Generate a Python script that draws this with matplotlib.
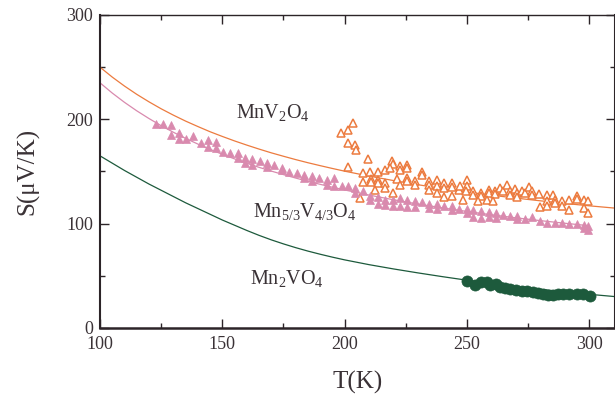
import matplotlib
matplotlib.use("Agg")
import matplotlib.pyplot as plt
from matplotlib.ticker import MultipleLocator

plt.rcParams['font.family'] = ['Liberation Serif', 'DejaVu Serif']
plt.rcParams['mathtext.fontset'] = 'custom'
plt.rcParams['mathtext.rm'] = 'Liberation Serif'
plt.rcParams['mathtext.default'] = 'regular'

# ---- fit curves ----
fit_T = [100, 105, 110, 115, 120, 125, 130, 135, 140, 145, 150, 155, 160, 165, 170, 175,
         180, 185, 190, 195, 200, 210, 220, 230, 240, 250, 260, 270, 280, 290, 300, 310]
fit_mnv2o4 = [250, 240.5, 231.9, 224, 216.8, 210.1, 204, 198.3, 193.1, 188.1, 183.6, 179.3,
              175.3, 171.5, 167.9, 164.6, 161.4, 158.4, 155.6, 152.9, 150.3, 145.6, 141.3,
              137.3, 133.7, 130.4, 127.3, 124.5, 121.9, 119.4, 117.1, 115]
fit_mid_T = fit_T[:-1]
fit_mid = [235, 225.2, 216.3, 208.2, 200.8, 193.9, 187.6, 181.7, 176.3, 171.2, 166.5, 162.1,
           157.9, 154.0, 150.4, 147.0, 143.7, 140.6, 137.7, 134.9, 132.3, 127.4, 122.9,
           118.8, 115.1, 111.7, 108.5, 105.6, 102.9, 100.4, 98]
fit_mn2vo4 = [165, 158, 151, 144.5, 138, 132, 126, 120, 114.5, 109, 103.5, 98.5,
              93.5, 88.8, 84.5, 80.6, 77, 73.7, 70.7, 67.9, 65.3, 60.7, 56.6,
              52.8, 49.2, 45.8, 42.7, 39.8, 37.1, 34.6, 32.3, 30.2]

# ---- Mn2VO4 data ----
mn2_T = [250.2, 253.3, 255.6, 258.1, 259.4, 261.8, 263.5, 265.6, 267.6, 270.1, 272.4,
         274.4, 276.9, 279.2, 281.2, 283.3, 285.3, 287.4, 289.4, 291.5, 294.9, 297.6, 300.3]
mn2_S = [45.5, 41.3, 43.9, 44.5, 41.3, 42, 39.7, 38.8, 37.5, 36.5, 35.9,
         35.3, 34.3, 34, 32.7, 32, 31.7, 32.4, 32.4, 32.4, 32.4, 32.4, 31]

# ---- Mn5/3V4/3O4 data ----
mid_T = [122.9, 125.9, 129.0, 128.9, 132.3, 132.3, 135.2, 138.2, 141.2, 144.0, 144.3,
         147.3, 147.3, 150.4, 153.1, 156.3, 156.3, 159.3, 159.3, 162.3, 162.3, 165.4,
         168.1, 168.1, 171.1, 174.3, 174.3, 177.4, 180.4, 183.4, 183.4, 186.5, 186.5,
         189.5, 192.7, 192.7, 195.7, 195.7, 198.8, 201.5, 204.3, 204.3, 207.3, 210.4,
         210.4, 213.5, 213.5, 216.5, 216.5, 219.7, 219.7, 222.6, 222.6, 225.6, 225.6,
         228.8, 228.8, 231.5, 234.5, 234.5, 237.6, 237.6, 240.8, 243.8, 243.8, 246.9,
         249.9, 249.9, 252.6, 252.6, 255.6, 255.6, 258.8, 258.8, 261.8, 261.8, 264.6,
         267.6, 270.6, 270.6, 273.8, 276.7, 279.9, 282.9, 286.0, 288.8, 291.9, 294.9,
         297.9, 297.9, 299.5, 299.5]
mid_S = [195.8, 195.8, 194.6, 184.6, 187.2, 181.4, 181.4, 184.0, 177.6, 180.1, 173.7,
         178.2, 172.1, 168.6, 168.0, 167.3, 163.1, 163.1, 158.3, 162.2, 156.7, 159.9,
         158.3, 154.1, 155.8, 152.9, 151.0, 149.4, 148.1, 147.1, 143.9, 145.5, 140.7,
         143.3, 141.7, 137.5, 143.9, 136.5, 136.5, 135.9, 134.3, 129.5, 131.1, 126.9,
         123.1, 125.6, 119.2, 123.1, 118.3, 123.1, 116.7, 124.7, 116.7, 123.1, 116.0,
         121.5, 115.7, 120.5, 118.9, 115.1, 119.2, 114.1, 116.7, 116.7, 112.8, 114.1,
         114.1, 110.3, 112.8, 106.4, 111.8, 105.4, 110.9, 106.4, 110.3, 105.4, 108.7,
         107.7, 107.7, 104.5, 104.5, 106.4, 102.2, 100.6, 100.6, 100.6, 100.0, 100.0,
         99.0, 95.8, 97.4, 93.6]

# ---- MnV2O4 data ----
mnv_T = [198.4, 201.3, 203.6, 201.5, 204.3, 204.5, 209.4, 201.5, 207.7, 210.4, 213.5,
         216.5, 219.2, 219.7, 218.6, 222.6, 222.6, 225.6, 225.6, 231.5, 231.5, 207.4,
         210.7, 210.7, 213.5, 213.5, 216.5, 216.5, 221.5, 222.6, 225.6, 225.6, 228.8,
         228.8, 234.6, 234.6, 234.6, 237.6, 237.6, 240.8, 240.8, 243.8, 243.8, 246.9,
         212.4, 219.7, 206.3, 237.6, 240.8, 243.8, 248.5,
         247.2, 249.9, 249.9, 249.6, 252.6, 252.6, 255.6, 255.6, 258.8, 258.8, 261.5,
         261.5, 263.5, 264.6, 266.5, 267.6, 267.6, 269.7, 270.6, 272.4, 273.8, 275.5,
         276.5, 276.5, 279.5, 279.9, 282.9, 282.9, 282.9, 285.1, 286.0, 286.0, 288.8,
         288.8, 291.9, 291.9, 294.9, 294.9, 297.9, 297.9, 299.5, 299.5, 254.6, 258.3,
         260.8, 270.6]
mnv_S = [186.5, 189.7, 196.2, 176.9, 175.0, 170.5, 162.2, 154.5, 148.7, 149.7, 149.4,
         151.3, 159.9, 157.4, 153.5, 155.1, 151.9, 155.8, 152.9, 149.4, 146.2, 139.7,
         143.0, 139.7, 141.6, 138.5, 139.1, 134.3, 143.0, 137.5, 143.9, 140.7, 140.7,
         137.5, 140.7, 137.5, 132.0, 141.6, 135.9, 138.5, 134.3, 139.1, 135.3, 132.7,
         132.0, 129.5, 124.7, 129.5, 125.6, 126.9, 122.4,
         135.9, 141.6, 136.5, 131.1, 131.1, 127.9, 129.5, 126.9, 132.7, 129.5, 131.1,
         128.5, 134.3, 131.1, 137.5, 131.1, 127.9, 133.3, 129.5, 131.1, 129.5, 135.3,
         131.1, 127.9, 128.8, 116.0, 127.9, 121.5, 116.7, 127.9, 123.1, 119.9, 121.5,
         116.7, 122.4, 112.8, 126.9, 123.7, 122.4, 115.1, 121.5, 110.3, 121.5, 123.1,
         121.5, 125.6]

labels = ["MnV$_2$O$_4$", "Mn$_{5/3}$V$_{4/3}$O$_4$", "Mn$_2$VO$_4$"]
label_T = [155.6, 162.6, 161.3]
label_S = [201.6, 106.7, 42.3]

orange = '#EC7B3F'
pink = '#D98AAE'
green = '#1D5A3C'
ink = '#2C2428'
txt = '#3A3236'

fig = plt.figure(figsize=(6.15, 3.95), dpi=100)
ax = fig.add_axes([100/615, 67/395, 515/615, (328-15)/395])

ax.plot(fit_T, fit_mnv2o4, color=orange, lw=0.9, zorder=2)
ax.plot(fit_mid_T, fit_mid, color=pink, lw=0.9, zorder=2)
ax.plot(fit_T, fit_mn2vo4, color=green, lw=0.9, zorder=2)

ax.plot(mnv_T, mnv_S, linestyle='none', marker='^', ms=5.5, mfc='white',
        mec=orange, mew=1.1, zorder=3)
ax.plot(mid_T, mid_S, linestyle='none', marker='^', ms=6.3, mfc=pink,
        mec=pink, mew=0.5, zorder=3)
ax.plot(mn2_T, mn2_S, linestyle='none', marker='o', ms=8, mfc=green,
        mec=green, mew=0.5, zorder=3)

for lab, tx, sy in zip(labels, label_T, label_S):
    ax.text(tx, sy, lab, fontsize=14.5, color=txt, ha='left', va='baseline')

ax.set_xlim(100, 310.5)
ax.set_ylim(0, 300)
ax.xaxis.set_major_locator(MultipleLocator(50))
ax.xaxis.set_minor_locator(MultipleLocator(25))
ax.yaxis.set_major_locator(MultipleLocator(100))
ax.yaxis.set_minor_locator(MultipleLocator(50))
ax.tick_params(which='both', direction='in', top=True, right=True,
               colors=ink, labelcolor=txt, labelsize=13, width=1.0)
ax.tick_params(which='major', length=6.5)
ax.tick_params(which='minor', length=3.5)
ax.tick_params(axis='x', which='major', pad=6)
ax.tick_params(axis='y', which='major', pad=5)

for side, lw in [('left', 1.5), ('bottom', 1.8), ('top', 1.0), ('right', 1.5)]:
    ax.spines[side].set_linewidth(lw)
    ax.spines[side].set_color(ink)

ax.set_xlabel('T(K)', fontsize=18, color=txt, labelpad=13)
ax.set_ylabel('S(μV/K)', fontsize=18, color=txt, labelpad=19)

fig.savefig('out.png', dpi=100)
